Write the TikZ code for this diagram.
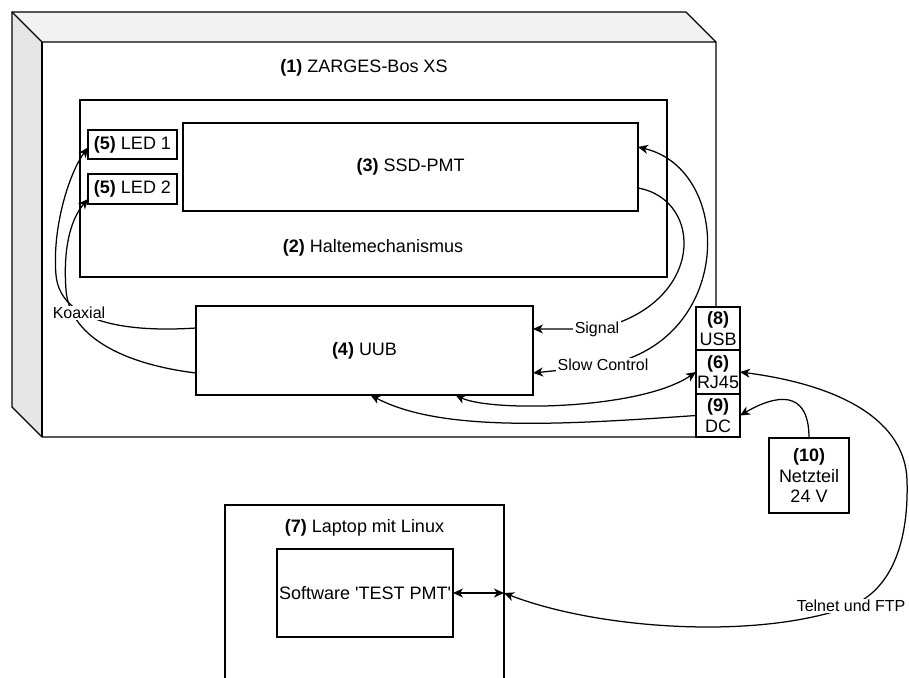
\documentclass[tikz,border=0pt]{standalone}
\usepackage{fontspec}
\setmainfont{Liberation Sans}
\usetikzlibrary{arrows.meta,calc}
\definecolor{topgray}{HTML}{F2F2F2}
\definecolor{sidegray}{HTML}{E6E6E6}
\begin{document}
\begin{tikzpicture}[x=1pt,y=-1pt,line width=1.25pt,
  box/.style={draw,fill=white,inner sep=0pt,outer sep=0pt,align=center,
              font=\fontsize{18}{20.5}\selectfont},
  txt/.style={inner sep=0pt,align=center,font=\fontsize{18}{21}\selectfont},
  edgelab/.style={fill=white,inner sep=1.5pt,font=\fontsize{16}{19}\selectfont},
  tip/.tip={Stealth[length=10pt,width=9pt,inset=3pt]},
  arr/.style={-tip},
  twoarr/.style={tip-tip}]
\useasboundingbox (0,0) rectangle (909,677);
\clip (0,0) rectangle (909,677);

% enclosure drawn as a cube
\fill[topgray] (12,12) -- (686,12) -- (716,42) -- (42,42) -- cycle;
\fill[sidegray] (12,12) -- (42,42) -- (42,437) -- (12,407) -- cycle;
\draw (12,12) -- (686,12) -- (716,42) -- (716,437) -- (42,437) -- (12,407) -- cycle;
\draw (12,12) -- (42,42) -- (716,42);
\draw (42,42) -- (42,437);
\node[txt] (zarges) at (364,68) {\textbf{(1)} ZARGES-Bos XS};

% holder with PMT and LEDs
\node[box,minimum width=587pt,minimum height=177pt] (halte) at (373.5,188.5) {};
\node[txt] (haltelabel) at (373,248) {\textbf{(2)} Haltemechanismus};
\node[box,minimum width=455pt,minimum height=88pt] (ssd) at (410.5,167) {\textbf{(3)} SSD-PMT};
\node[box,minimum width=89pt,minimum height=29pt] (led1) at (132.5,144.5) {\textbf{(5)} LED 1};
\node[box,minimum width=89pt,minimum height=30pt] (led2) at (132.5,189) {\textbf{(5)} LED 2};

% electronics
\node[box,minimum width=337pt,minimum height=89pt] (uub) at (364.5,350.5) {\textbf{(4)} UUB};

% power supply
\node[box,minimum width=80pt,minimum height=75pt] (netz) at (809,475.5) {\textbf{(10)}\\Netzteil\\24 V};

% laptop
\node[box,minimum width=279pt,minimum height=200pt] (laptop) at (364.5,605) {};
\node[txt] (laptoplabel) at (364.5,528) {\textbf{(7)} Laptop mit Linux};
\node[box,minimum width=176pt,minimum height=88pt] (sw) at (365,593)
  {Software \textquotesingle TEST PMT\textquotesingle};

% coaxial cables to the LEDs
\draw[arr] ([yshift=22.5pt]uub.west) .. controls (120,333) and (60,320) .. (56,275)
  .. controls (52,230) and (68,175) .. ([yshift=-3pt]led1.west);
\draw[arr] ([yshift=-22.5pt]uub.west) .. controls (130,365) and (70,340) .. (66,290)
  .. controls (63,250) and (70,220) .. ([yshift=-10pt]led2.west);
\node[edgelab] (koax) at (79,313) {Koaxial};

% PMT signal and slow control
\draw[arr] ([yshift=-21pt]ssd.east) .. controls (705,200) and (705,305) .. (597,329)
  -- ([yshift=21.5pt]uub.east);
\node[edgelab] (signal) at (597,329) {Signal};
\draw[twoarr] ([yshift=-22.5pt]uub.east) -- (600,366)
  .. controls (735,345) and (735,170) .. ([yshift=20pt]ssd.east);
\node[edgelab] (slow) at (603,365) {Slow Control};

% network and power connections
\draw[twoarr] ([xshift=91pt]uub.south) .. controls (490,412) and (640,410) .. (696,372);
\draw[arr] (696,415.5) .. controls (560,425) and (440,432) .. ([xshift=6pt]uub.south);
\draw[arr] (netz.north) .. controls (809,388) and (775,395) .. (740,415.5);
\draw[twoarr] (740,372) .. controls (840,385) and (905,420) .. (907,480)
  .. controls (909,545) and (890,590) .. (851,606)
  .. controls (760,640) and (600,630) .. (sw.east -| laptop.east);
\node[edgelab] (telnet) at (851,606) {Telnet und FTP};
\draw[twoarr] (sw.east) -- (sw.east -| laptop.east);

% connectors on the enclosure wall
\node[box,minimum width=44pt,minimum height=43pt] (usb) at (718,328.5) {\textbf{(8)}\\USB};
\node[box,minimum width=44pt,minimum height=44pt] (rj45) at (718,372) {\textbf{(6)}\\RJ45};
\node[box,minimum width=44pt,minimum height=43pt] (dc) at (718,415.5) {\textbf{(9)}\\DC};
\end{tikzpicture}
\end{document}
